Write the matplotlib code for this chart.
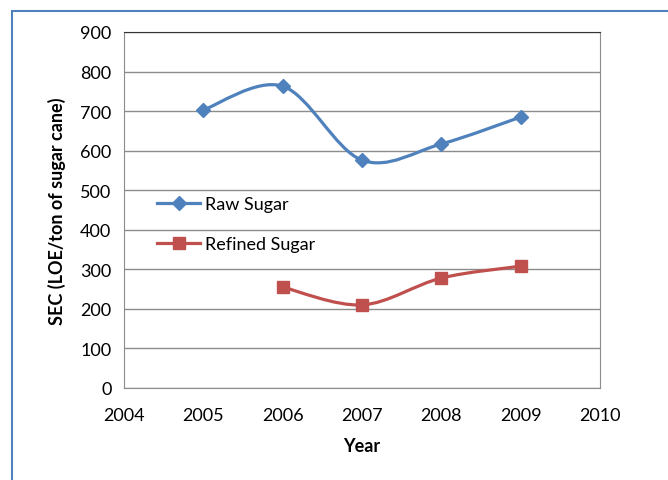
"""SEC of raw and refined sugar production by year"""

import matplotlib.pyplot as plt
import numpy as np
from matplotlib.path import Path
from matplotlib.patches import PathPatch, Rectangle
from matplotlib.lines import Line2D

plt.rcParams['font.family'] = ['Lato', 'DejaVu Sans']

raw_years = [2005, 2006, 2007, 2008, 2009]
raw_sec = [703, 763, 576, 617, 685]
refined_years = [2006, 2007, 2008, 2009]
refined_sec = [255, 210, 278, 308]

raw_color = '#4F81BD'
refined_color = '#C0504D'


def smooth_path(xs, ys):
    # excel-like smoothed line: cubic bezier through the points
    pts = np.column_stack([xs, ys]).astype(float)
    n = len(pts)
    verts = [pts[0]]
    codes = [Path.MOVETO]
    for i in range(n - 1):
        p0 = pts[i - 1] if i > 0 else pts[i]
        p1 = pts[i]
        p2 = pts[i + 1]
        p3 = pts[i + 2] if i + 2 < n else pts[i + 1]
        c1 = p1 + (p2 - p0) / 6
        c2 = p2 - (p3 - p1) / 6
        verts += [c1, c2, p2]
        codes += [Path.CURVE4] * 3
    return Path(verts, codes)


fig = plt.figure(figsize=(6.68, 4.81), dpi=100)
ax = fig.add_axes([124 / 668, 1 - 389 / 481, 476 / 668, 356 / 481])

# outer frame
fig.patches.append(Rectangle((12 / 668, -0.1), 1.2, 1 - 12 / 481 + 0.1,
                             transform=fig.transFigure, fill=False,
                             edgecolor='#4F81BD', linewidth=1.5))

for xs, ys, c, m, ms, lab in [
        (raw_years, raw_sec, raw_color, 'D', 7, 'Raw Sugar'),
        (refined_years, refined_sec, refined_color, 's', 9, 'Refined Sugar')]:
    ax.add_patch(PathPatch(smooth_path(xs, ys), fill=False, edgecolor=c,
                           linewidth=2.3, zorder=3))
    ax.plot(xs, ys, linestyle='none', marker=m, markersize=ms, color=c,
            zorder=4, label=lab)

ax.set_xlim(2004, 2010)
ax.set_ylim(0, 900)
ax.set_xticks(range(2004, 2011))
ax.set_yticks(range(0, 901, 100))
ax.grid(axis='y', color='#8C8C8C', linewidth=1)
ax.set_axisbelow(True)
ax.tick_params(length=0, labelsize=13)
ax.tick_params(axis='x', pad=14)
ax.tick_params(axis='y', pad=9)
for s in ax.spines.values():
    s.set_color('#8C8C8C')
ax.spines['top'].set_color('#333333')

ax.set_xlabel('Year', fontsize=13, fontweight='bold', labelpad=10)
ax.set_ylabel('SEC (LOE/ton of sugar cane)', fontsize=13, fontweight='bold',
              labelpad=10)

handles = [Line2D([], [], color=raw_color, linewidth=2.3, marker='D', markersize=7),
           Line2D([], [], color=refined_color, linewidth=2.3, marker='s', markersize=9)]
ax.legend(handles, ['Raw Sugar', 'Refined Sugar'], loc='upper left',
          bbox_to_anchor=(0.035, 0.585), frameon=False, fontsize=13,
          labelspacing=1.35, handlelength=2.4, handletextpad=0.25)

fig.savefig('out.png', dpi=100)
